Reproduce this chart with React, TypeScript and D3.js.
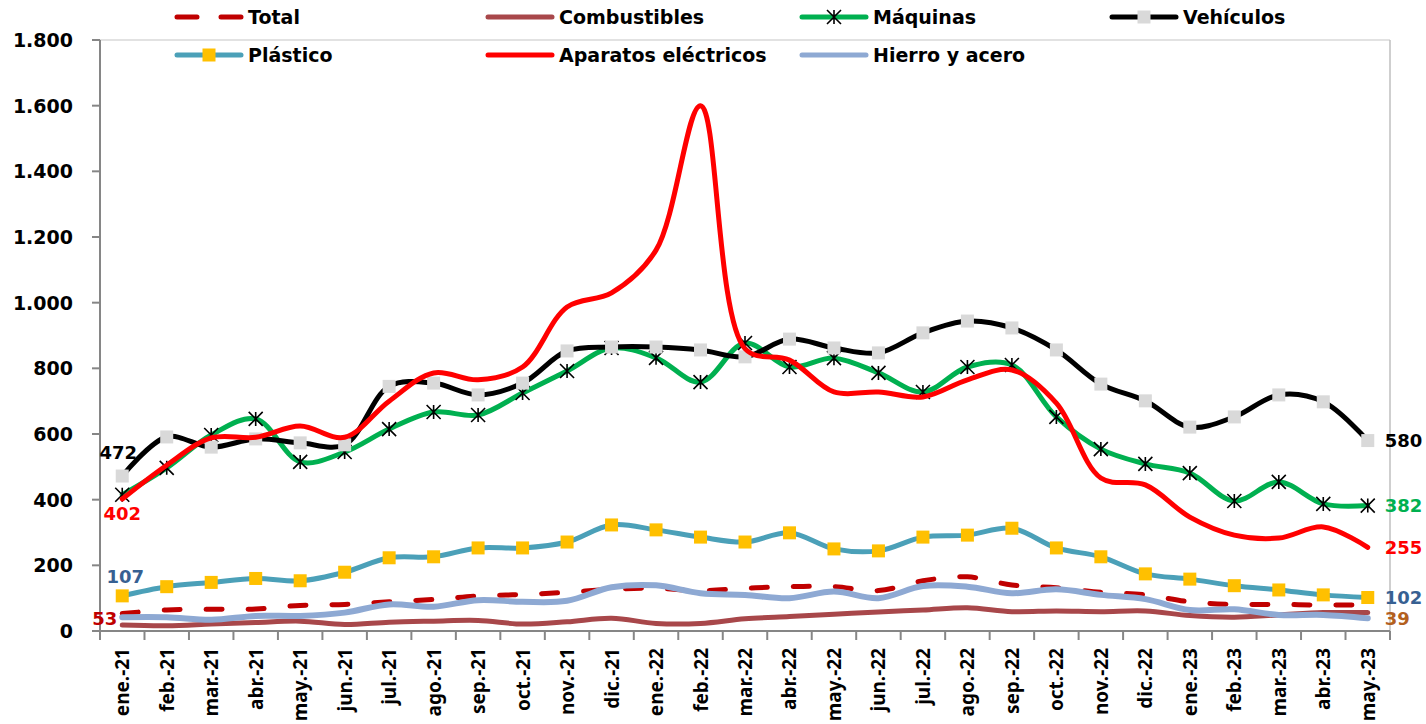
import { useEffect } from "react"
import * as d3 from "d3"

const months = [
  "ene.-21", "feb.-21", "mar.-21", "abr.-21", "may.-21", "jun.-21", "jul.-21", "ago.-21", "sep.-21", "oct.-21", "nov.-21", "dic.-21",
  "ene.-22", "feb.-22", "mar.-22", "abr.-22", "may.-22", "jun.-22", "jul.-22", "ago.-22", "sep.-22", "oct.-22", "nov.-22", "dic.-22",
  "ene.-23", "feb.-23", "mar.-23", "abr.-23", "may.-23",
]

const total = [53, 64, 66, 67, 78, 81, 89, 96, 107, 111, 118, 127, 130, 123, 130, 135, 135, 123, 153, 165, 140, 132, 118, 110, 89, 81, 81, 79, 80]
const combustibles = [18, 16, 21, 26, 30, 20, 27, 30, 32, 21, 28, 39, 23, 23, 37, 44, 51, 58, 64, 71, 59, 61, 59, 61, 47, 42, 49, 56, 56]
const maquinas = [415, 497, 597, 646, 515, 545, 615, 667, 658, 725, 792, 862, 832, 758, 877, 804, 831, 786, 728, 804, 810, 652, 554, 509, 481, 396, 454, 387, 382]
const vehiculos = [472, 591, 560, 585, 573, 567, 745, 755, 719, 755, 853, 865, 865, 856, 835, 889, 862, 847, 908, 944, 923, 856, 752, 701, 621, 652, 719, 698, 580]
const plastico = [107, 135, 148, 160, 153, 179, 223, 226, 253, 253, 271, 323, 308, 286, 271, 299, 250, 244, 286, 292, 313, 253, 226, 174, 158, 138, 125, 110, 102]
const aparatos = [402, 505, 588, 590, 624, 590, 700, 786, 765, 804, 987, 1030, 1160, 1600, 860, 825, 728, 728, 713, 765, 795, 694, 466, 445, 347, 292, 283, 317, 255]
const hierro = [42, 42, 34, 46, 46, 56, 81, 74, 94, 89, 92, 133, 139, 115, 110, 100, 120, 100, 137, 135, 115, 127, 110, 97, 64, 66, 49, 49, 39]

const yTicks = [0, 200, 400, 600, 800, 1000, 1200, 1400, 1600, 1800]

type Series = {
  name: string
  values: number[]
  color: string
  width: number
  dash?: string
  marker?: "square" | "star"
  markerColor?: string
}

const series: Series[] = [
  { name: "Total", values: total, color: "#C00000", width: 5, dash: "16 26" },
  { name: "Combustibles", values: combustibles, color: "#A8474A", width: 5 },
  { name: "Máquinas", values: maquinas, color: "#00B050", width: 5, marker: "star", markerColor: "#000" },
  { name: "Vehículos", values: vehiculos, color: "#000000", width: 5, marker: "square", markerColor: "#D9D9D9" },
  { name: "Plástico", values: plastico, color: "#4BA0B8", width: 5, marker: "square", markerColor: "#FFC000" },
  { name: "Aparatos eléctricos", values: aparatos, color: "#FF0000", width: 5 },
  { name: "Hierro y acero", values: hierro, color: "#8EA9D3", width: 6 },
]

// legend slots: [column x, row]
const legendPos: [number, number][] = [
  [175, 0], [486, 0], [800, 0], [1110, 0],
  [175, 1], [486, 1], [800, 1],
]

const W = 1426
const H = 724
const left = 100
const right = 1390
const top = 40
const bottom = 631

const hFont = "'DejaVu Sans', sans-serif"
const vFont = "'Noto Sans', sans-serif"

const fmt = d3.formatLocale({ decimal: ",", thousands: ".", grouping: [3], currency: ["", ""] }).format(",")

function Marker({ kind, x, y, color }: { kind?: string; x: number; y: number; color?: string }) {
  if (kind === "square") {
    return <rect x={x - 6.5} y={y - 6.5} width={13} height={13} fill={color} />
  }
  if (kind === "star") {
    const r = 7
    return (
      <path
        d={`M${x},${y - r}L${x},${y + r}M${x - r},${y - r}L${x + r},${y + r}M${x - r},${y + r}L${x + r},${y - r}`}
        stroke={color}
        strokeWidth={1.6}
        fill="none"
      />
    )
  }
  return null
}

export default function App() {
  useEffect(() => {
    document.body.style.margin = "0"
  }, [])

  const x = d3.scaleBand<string>().domain(months).range([left, right])
  const cx = (m: string) => (x(m) ?? 0) + x.bandwidth() / 2
  const y = d3.scaleLinear().domain([0, 1800]).range([bottom, top])

  const line = d3
    .line<number>()
    .x((_, i) => cx(months[i]))
    .y((d) => y(d))
    .curve(d3.curveCatmullRom.alpha(0.5))

  const first = months[0]
  const last = months[months.length - 1]
  const n = months.length - 1

  const leftLabels = [
    { text: String(vehiculos[0]), color: "#000", x: cx(first) - 4, y: y(vehiculos[0]) - 24 },
    { text: String(aparatos[0]), color: "#FF0000", x: cx(first), y: y(aparatos[0]) + 14 },
    { text: String(plastico[0]), color: "#376092", x: cx(first) + 3, y: y(plastico[0]) - 19 },
    { text: String(total[0]), color: "#C00000", x: cx(first) - 5, y: y(total[0]) + 5 },
  ]
  const rightLabels = [
    { text: String(vehiculos[n]), color: "#000", v: vehiculos[n] },
    { text: String(maquinas[n]), color: "#00B050", v: maquinas[n] },
    { text: String(aparatos[n]), color: "#FF0000", v: aparatos[n] },
    { text: String(plastico[n]), color: "#376092", v: plastico[n] },
    { text: String(hierro[n]), color: "#B3601E", v: hierro[n] },
  ]

  return (
    <svg width={W} height={H} style={{ display: "block", background: "#fff" }}>
      {/* plot area border */}
      <line x1={left} x2={right} y1={top} y2={top} stroke="#D9D9D9" strokeWidth={1.5} />
      <line x1={right} x2={right} y1={top} y2={bottom} stroke="#BFBFBF" strokeWidth={1.5} />

      {/* y axis */}
      <line x1={left} x2={left} y1={top} y2={bottom} stroke="#868686" strokeWidth={2} />
      {yTicks.map((t) => (
        <g key={t}>
          <line x1={left - 8} x2={left} y1={y(t)} y2={y(t)} stroke="#868686" strokeWidth={2} />
          <text
            x={73}
            y={y(t)}
            textAnchor="end"
            dominantBaseline="central"
            fontFamily={hFont}
            fontWeight="bold"
            fontSize={19}
            fill="#000"
          >
            {fmt(t)}
          </text>
        </g>
      ))}

      {/* x axis */}
      <line x1={left} x2={right} y1={bottom} y2={bottom} stroke="#868686" strokeWidth={2} />
      {months.map((m) => (
        <line key={"t" + m} x1={x(m)} x2={x(m)} y1={bottom} y2={bottom + 9} stroke="#868686" strokeWidth={2} />
      ))}
      <line x1={right} x2={right} y1={bottom} y2={bottom + 9} stroke="#868686" strokeWidth={2} />
      {months.map((m) => (
        <text
          key={"l" + m}
          transform={`translate(${cx(m)},${bottom + 17}) rotate(-90)`}
          textAnchor="end"
          dominantBaseline="central"
          fontFamily={vFont}
          fontWeight="bold"
          fontSize={19}
          fill="#000"
        >
          {m}
        </text>
      ))}

      {/* series */}
      {series.map((s) => (
        <g key={s.name}>
          <path
            d={line(s.values) ?? ""}
            fill="none"
            stroke={s.color}
            strokeWidth={s.width}
            strokeDasharray={s.dash}
            strokeLinecap="round"
            strokeLinejoin="round"
          />
          {s.marker &&
            s.values.map((v, i) => (
              <Marker key={i} kind={s.marker} x={cx(months[i])} y={y(v)} color={s.markerColor} />
            ))}
        </g>
      ))}

      {/* data labels */}
      {leftLabels.map((l) => (
        <text
          key={"ll" + l.text}
          x={l.x}
          y={l.y}
          textAnchor={l.text === String(total[0]) ? "end" : "middle"}
          dominantBaseline="central"
          fontFamily={hFont}
          fontWeight="bold"
          fontSize={18}
          fill={l.color}
        >
          {l.text}
        </text>
      ))}
      {rightLabels.map((l) => (
        <text
          key={"rl" + l.text}
          x={cx(last) + 17}
          y={y(l.v)}
          dominantBaseline="central"
          fontFamily={hFont}
          fontWeight="bold"
          fontSize={18}
          fill={l.color}
        >
          {l.text}
        </text>
      ))}

      {/* legend */}
      {series.map((s, i) => {
        const [lx, row] = legendPos[i]
        const ly = row === 0 ? 17 : 55
        const len = 66
        return (
          <g key={"lg" + s.name}>
            <line
              x1={lx + 2}
              x2={lx + len}
              y1={ly}
              y2={ly}
              stroke={s.color}
              strokeWidth={5}
              strokeDasharray={s.dash ? "20 24" : undefined}
              strokeLinecap="round"
            />
            <Marker kind={s.marker} x={lx + len / 2 + 1} y={ly} color={s.markerColor} />
            <text
              x={lx + len + 7}
              y={ly}
              dominantBaseline="central"
              fontFamily={hFont}
              fontWeight="bold"
              fontSize={19}
              fill="#000"
            >
              {s.name}
            </text>
          </g>
        )
      })}
    </svg>
  )
}
